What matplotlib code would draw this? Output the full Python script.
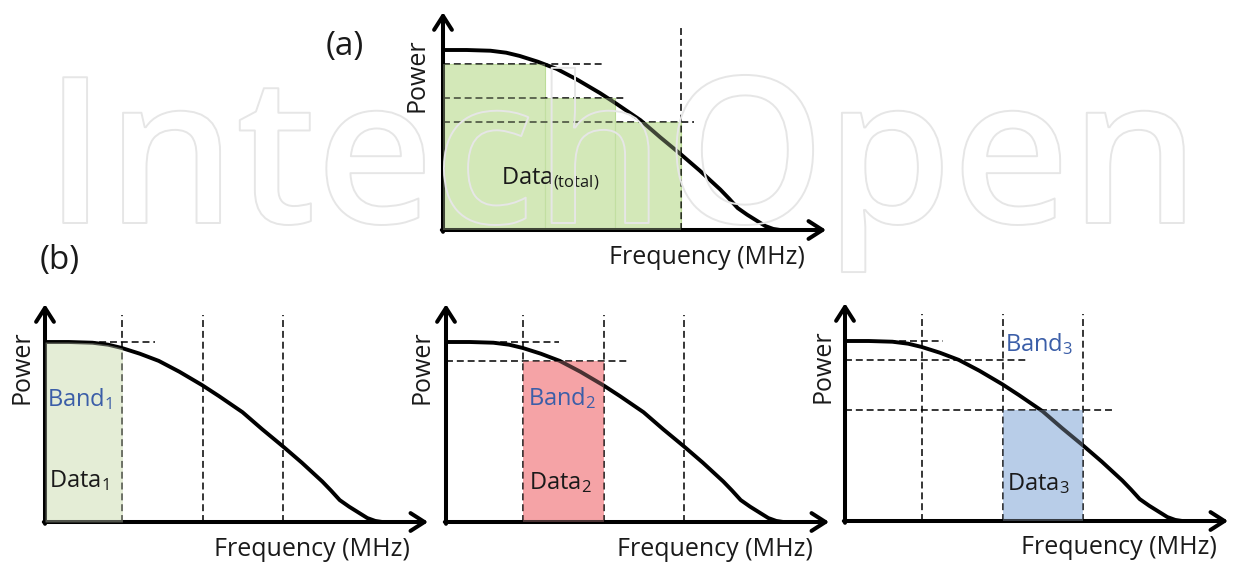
import matplotlib
matplotlib.use("Agg")
import matplotlib.pyplot as plt
import matplotlib.patheffects as pe

plt.rcParams['font.family'] = ['Open Sans', 'DejaVu Sans']
plt.rcParams['mathtext.fontset'] = 'custom'
plt.rcParams['mathtext.rm'] = 'Open Sans'
plt.rcParams['mathtext.it'] = 'Open Sans:italic'
plt.rcParams['lines.scale_dashes'] = False

# ---------------- data ----------------
curve_freq = [0, 0.3, 0.6, 0.8, 0.97, 1.2, 1.44, 1.7, 1.99, 2.2, 2.5, 2.75,
              3.02, 3.25, 3.51, 3.62, 3.73, 3.85, 4.08, 4.18, 4.27]
curve_power = [1.0, 1.0, 0.996, 0.985, 0.967, 0.935, 0.895, 0.835, 0.76, 0.70,
               0.61, 0.515, 0.417, 0.33, 0.225, 0.175, 0.122, 0.085, 0.022,
               0.006, 0.0]

# panel (a): total data
a_edges = [0, 1.29, 2.18, 3.01]
a_heights = [0.922, 0.733, 0.6]
a_hline_ends = [2.01, 2.30, 3.18]
a_vline = 3.01

# panel (b): bands
band_edges = [0.98, 2.0, 3.01]
b1_hlevels = [1.0]
b1_hends = [1.39]
b2_rect = (0.98, 2.0, 0.894)
b2_hlevels = [1.0, 0.894]
b2_hends = [1.43, 2.29]
b3_rect = (2.0, 3.01, 0.617)
b3_hlevels = [1.0, 0.894, 0.617]
b3_hends = [1.24, 2.30, 3.38]

xlabel = "Frequency (MHz)"
ylabel = "Power"

# ---------------- layout ----------------
W, H = 1233, 564
PX_X, PX_Y = 79.0, 180.0
XL, YL = (-0.1, 5.0), (-0.05, 1.25)

fig = plt.figure(figsize=(W / 100, H / 100), dpi=100)

# watermark (outlined text)
fig.text(44 / W, (H - 223) / H, "IntechOpen", fontsize=147, family='Open Sans',
         fontweight='semibold', color='none', ha='left', va='baseline', zorder=10,
         path_effects=[pe.Stroke(linewidth=1.4, foreground='#e6e6e6')])


def make_ax(ox, oy):
    left = (ox + XL[0] * PX_X) / W
    bottom = (H - (oy - YL[0] * PX_Y)) / H
    ax = fig.add_axes([left, bottom, (XL[1] - XL[0]) * PX_X / W,
                       (YL[1] - YL[0]) * PX_Y / H])
    ax.set_xlim(*XL)
    ax.set_ylim(*YL)
    ax.axis('off')
    return ax


def axes_arrows(ax, xlabel_right, ylabel_x):
    ap = dict(arrowstyle='->,head_length=0.5,head_width=0.32', lw=2.9,
              color='black', shrinkA=0, shrinkB=0, mutation_scale=20)
    ax.annotate('', xy=(0, 1.21), xytext=(0, -0.01), arrowprops=ap)
    ax.annotate('', xy=(4.85, 0), xytext=(-0.015, 0), arrowprops=ap)
    ax.text(xlabel_right, -0.15, xlabel, ha='right', va='center',
            fontsize=18, color='#1a1a1a')
    ax.text(ylabel_x, 0.86, ylabel, ha='center', va='center', rotation=90,
            fontsize=18, color='#1a1a1a')


def curve(ax):
    ax.plot(curve_freq, curve_power, color='black', lw=2.8,
            solid_capstyle='round', solid_joinstyle='round', zorder=4)


def dashed_h(ax, levels, ends):
    for lv, e in zip(levels, ends):
        ax.plot([0, e], [lv, lv], color='black', lw=1.1, dashes=(5, 2.8), zorder=5)


def dashed_v(ax, xs, top):
    for x in xs:
        ax.plot([x, x], [0, top], color='black', lw=1.1, dashes=(5, 2.8), zorder=5)


def rect(ax, x0, x1, h, col, tint_alpha=0.3):
    ax.bar([x0], [h], width=[x1 - x0], align='edge', color=col,
           edgecolor='none', zorder=2)
    ax.bar([x0], [h], width=[x1 - x0], align='edge', color=col,
           edgecolor='none', alpha=tint_alpha, zorder=6)


BLUE = '#3b5ea8'
DARK = '#1a1a1a'
LBL = 17

# ---------- panel (a) ----------
axa = make_ax(443, 230)
green_a = '#d3e8b8'
for i in range(len(a_heights)):
    axa.bar([a_edges[i]], [a_heights[i]], width=[a_edges[i + 1] - a_edges[i]],
            align='edge', color=green_a, edgecolor='#bcdc98', lw=0.8, zorder=2)
    axa.bar([a_edges[i]], [a_heights[i]], width=[a_edges[i + 1] - a_edges[i]],
            align='edge', color=green_a, edgecolor='none', alpha=0.3, zorder=6)
dashed_h(axa, a_heights, a_hline_ends)
dashed_v(axa, [a_vline], 1.14)
curve(axa)
axes_arrows(axa, 4.58, -0.33)
axa.text(0.73, 0.28, r"Data$_\mathrm{(total)}$", ha='left', va='center',
         fontsize=LBL, color=DARK, zorder=8)

# ---------- panel (b1) ----------
axb1 = make_ax(45, 522)
fx = [f for f in curve_freq if f <= band_edges[0]] + [band_edges[0]]
fy = [p for f, p in zip(curve_freq, curve_power) if f <= band_edges[0]] + [0.965]
axb1.fill_between(fx, 0, fy, color='#e4edd6', zorder=2, lw=0)
axb1.fill_between(fx, 0, fy, color='#e4edd6', zorder=6, alpha=0.35, lw=0)
curve(axb1)
dashed_h(axb1, b1_hlevels, b1_hends)
dashed_v(axb1, band_edges, 1.15)
axes_arrows(axb1, 4.62, -0.29)
axb1.text(0.03, 0.68, r"Band$_\mathrm{1}$", ha='left', va='center',
          fontsize=LBL, color=BLUE, zorder=8)
axb1.text(0.05, 0.23, r"Data$_\mathrm{1}$", ha='left', va='center',
          fontsize=LBL, color=DARK, zorder=8)

# ---------- panel (b2) ----------
axb2 = make_ax(446, 522)
rect(axb2, *b2_rect, '#f5a3a6')
curve(axb2)
dashed_h(axb2, b2_hlevels, b2_hends)
dashed_v(axb2, band_edges, 1.15)
axes_arrows(axb2, 4.65, -0.30)
axb2.text(1.04, 0.69, r"Band$_\mathrm{2}$", ha='left', va='center',
          fontsize=LBL, color=BLUE, zorder=8)
axb2.text(1.05, 0.22, r"Data$_\mathrm{2}$", ha='left', va='center',
          fontsize=LBL, color=DARK, zorder=8)

# ---------- panel (b3) ----------
axb3 = make_ax(845, 521)
rect(axb3, *b3_rect, '#b8cde8')
curve(axb3)
dashed_h(axb3, b3_hlevels, b3_hends)
dashed_v(axb3, band_edges, 1.15)
axes_arrows(axb3, 4.71, -0.28)
axb3.text(2.02, 0.98, r"Band$_\mathrm{3}$", ha='left', va='center',
          fontsize=LBL, color=BLUE, zorder=8)
axb3.text(2.05, 0.21, r"Data$_\mathrm{3}$", ha='left', va='center',
          fontsize=LBL, color=DARK, zorder=8)

# panel letters
fig.text(345 / W, (H - 47) / H, "(a)", ha='center', va='center', fontsize=24, color=DARK)
fig.text(60 / W, (H - 260) / H, "(b)", ha='center', va='center', fontsize=24, color=DARK)

fig.savefig("out.png", dpi=100)
